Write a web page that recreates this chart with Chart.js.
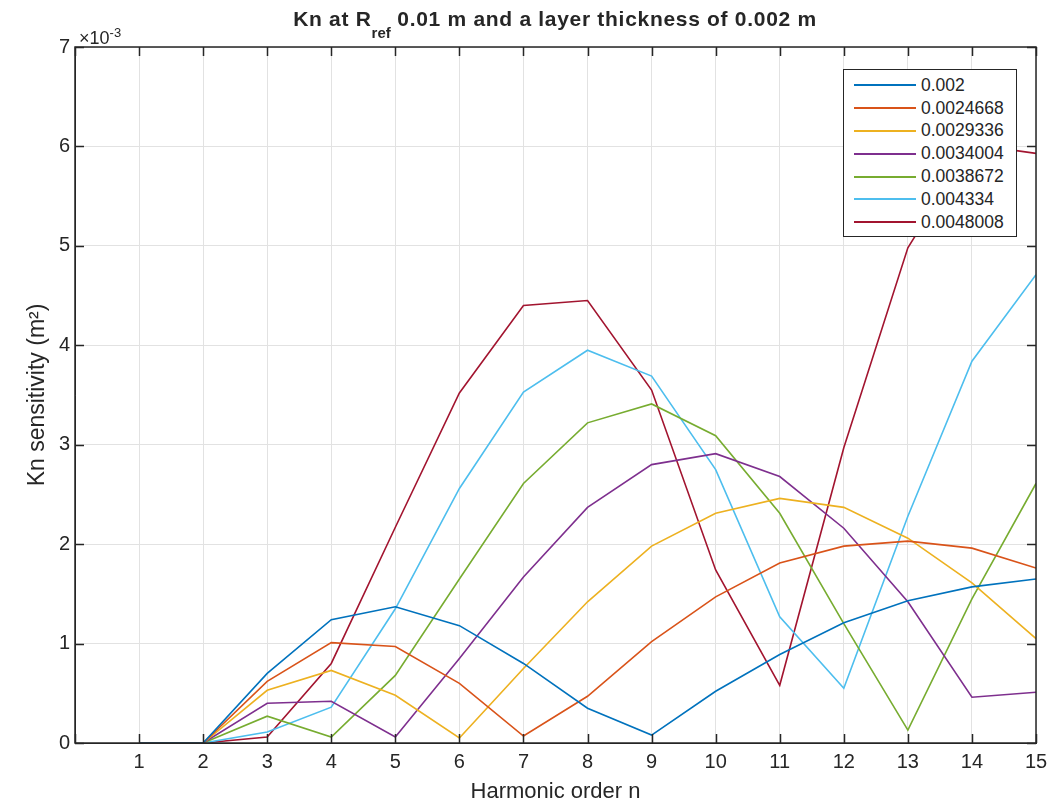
<!DOCTYPE html>
<html>
<head>
<meta charset="utf-8">
<title>Kn sensitivity</title>
<script src="https://cdn.jsdelivr.net/npm/chart.js@4.4.1/dist/chart.umd.min.js"></script>
<style>
  body { margin: 0; background: #fff; font-family: "Liberation Sans", Arial, sans-serif; color: #262626; }
  #wrap { position: relative; width: 1055px; height: 805px; }
  #title { position: absolute; left: 75px; width: 960px; top: 8px; line-height: 21px; text-align: center; font-weight: bold; font-size: 21px; letter-spacing: 0.7px; }
  #title sub { font-size: 15px; vertical-align: -12px; line-height: 0; letter-spacing: 0; }
  #exp { position: absolute; left: 79px; top: 29px; font-size: 18px; line-height: 18px; }
  #exp sup { font-size: 13px; vertical-align: 7px; line-height: 0; }
  #legend { position: absolute; left: 843px; top: 69px; width: 174px; height: 168px; border: 1px solid #262626; background: #fff; padding-top: 4px; box-sizing: border-box; }
  .row { display: flex; align-items: center; height: 22.8px; font-size: 17.5px; }
  .row span.ln { display: inline-block; width: 62px; height: 0; border-top: 2px solid; margin: 0 5px 0 10px; }
</style>
</head>
<body>
<div id="wrap">
  <canvas id="knChart" width="1055" height="805"></canvas>
  <div id="title">Kn at R<sub>ref</sub> 0.01 m and a layer thickness of 0.002 m</div>
  <div id="exp">&times;10<sup>-3</sup></div>
  <div id="legend"></div>
</div>
<script>
// harmonic orders and layer thickness of each curve
const harmonics = [1, 2, 3, 4, 5, 6, 7, 8, 9, 10, 11, 12, 13, 14, 15];
const thickness = ['0.002', '0.0024668', '0.0029336', '0.0034004', '0.0038672', '0.004334', '0.0048008'];

// Kn sensitivity, in units of 1e-3 m^2
const kn1 = [0, 0, 0.70, 1.24, 1.37, 1.18, 0.80, 0.35, 0.08, 0.52, 0.89, 1.21, 1.43, 1.57, 1.65];
const kn2 = [0, 0, 0.62, 1.01, 0.97, 0.60, 0.07, 0.47, 1.02, 1.47, 1.81, 1.98, 2.03, 1.96, 1.76];
const kn3 = [0, 0, 0.53, 0.73, 0.48, 0.05, 0.75, 1.42, 1.98, 2.31, 2.46, 2.37, 2.06, 1.61, 1.05];
const kn4 = [0, 0, 0.40, 0.42, 0.06, 0.85, 1.67, 2.37, 2.80, 2.91, 2.68, 2.16, 1.42, 0.46, 0.51];
const kn5 = [0, 0, 0.27, 0.06, 0.68, 1.65, 2.61, 3.22, 3.41, 3.09, 2.31, 1.20, 0.13, 1.45, 2.61];
const kn6 = [0, 0, 0.11, 0.36, 1.35, 2.56, 3.53, 3.95, 3.69, 2.75, 1.27, 0.55, 2.28, 3.84, 4.71];
const kn7 = [0, 0, 0.06, 0.80, 2.17, 3.52, 4.40, 4.45, 3.55, 1.74, 0.58, 2.97, 4.98, 6.02, 5.93];

const series = [kn1, kn2, kn3, kn4, kn5, kn6, kn7];
const colors = ['#0072BD', '#D95319', '#EDB120', '#7E2F8E', '#77AC30', '#4DBEEE', '#A2142F'];

const datasets = series.map((vals, i) => ({
    label: thickness[i],
    data: harmonics.map((h, j) => ({ x: h, y: vals[j] })),
    borderColor: colors[i],
    backgroundColor: colors[i],
    borderWidth: 1.6,
    pointRadius: 0,
    tension: 0,
    fill: false
}));

// legend box in the top right corner of the axes
const legend = document.getElementById('legend');
datasets.forEach(ds => {
    const row = document.createElement('div');
    row.className = 'row';
    row.innerHTML = '<span class="ln" style="border-color:' + ds.borderColor + '"></span>' + ds.label;
    legend.appendChild(row);
});

// box around the axes and inward tick marks (MATLAB style)
const boxPlugin = {
    id: 'box',
    afterDraw(chart) {
        const { ctx, chartArea: a, scales } = chart;
        ctx.save();
        ctx.strokeStyle = '#262626';
        ctx.lineWidth = 1.5;
        ctx.strokeRect(a.left, a.top, a.right - a.left, a.bottom - a.top);
        ctx.beginPath();
        scales.x.ticks.forEach(t => {
            const px = Math.round(scales.x.getPixelForValue(t.value)) + 0.5;
            ctx.moveTo(px, a.bottom); ctx.lineTo(px, a.bottom - 9);
            ctx.moveTo(px, a.top); ctx.lineTo(px, a.top + 9);
        });
        scales.y.ticks.forEach(t => {
            const py = Math.round(scales.y.getPixelForValue(t.value)) + 0.5;
            ctx.moveTo(a.left, py); ctx.lineTo(a.left + 9, py);
            ctx.moveTo(a.right, py); ctx.lineTo(a.right - 9, py);
        });
        ctx.stroke();
        ctx.restore();
    }
};

const family = '"Liberation Sans", Arial, sans-serif';

new Chart(document.getElementById('knChart'), {
    type: 'line',
    data: { datasets: datasets },
    options: {
        responsive: false,
        animation: false,
        layout: { padding: { top: 47, right: 19, left: 0, bottom: 0 } },
        plugins: {
            legend: { display: false },
            tooltip: { enabled: false }
        },
        scales: {
            x: {
                type: 'linear',
                min: 0,
                max: 15,
                ticks: {
                    stepSize: 1,
                    color: '#262626',
                    font: { family: family, size: 20 },
                    padding: 7,
                    maxRotation: 0,
                    callback: v => (v === 0 ? '' : v)
                },
                grid: { color: '#e2e2e2', drawTicks: false },
                border: { color: '#262626' },
                title: {
                    display: true,
                    text: 'Harmonic order n',
                    color: '#262626',
                    font: { family: family, size: 22 },
                    padding: { top: 0, bottom: 0 }
                },
                afterFit(scale) { scale.height = 62; }
            },
            y: {
                min: 0,
                max: 7,
                ticks: {
                    stepSize: 1,
                    color: '#262626',
                    font: { family: family, size: 20 },
                    padding: 5
                },
                grid: { color: '#e2e2e2', drawTicks: false },
                border: { color: '#262626' },
                title: {
                    display: true,
                    text: 'Kn sensitivity (m²)',
                    color: '#262626',
                    font: { family: family, size: 23 },
                    padding: { top: 24, bottom: 0 }
                },
                afterFit(scale) { scale.width = 75; }
            }
        }
    },
    plugins: [boxPlugin]
});
</script>
</body>
</html>
